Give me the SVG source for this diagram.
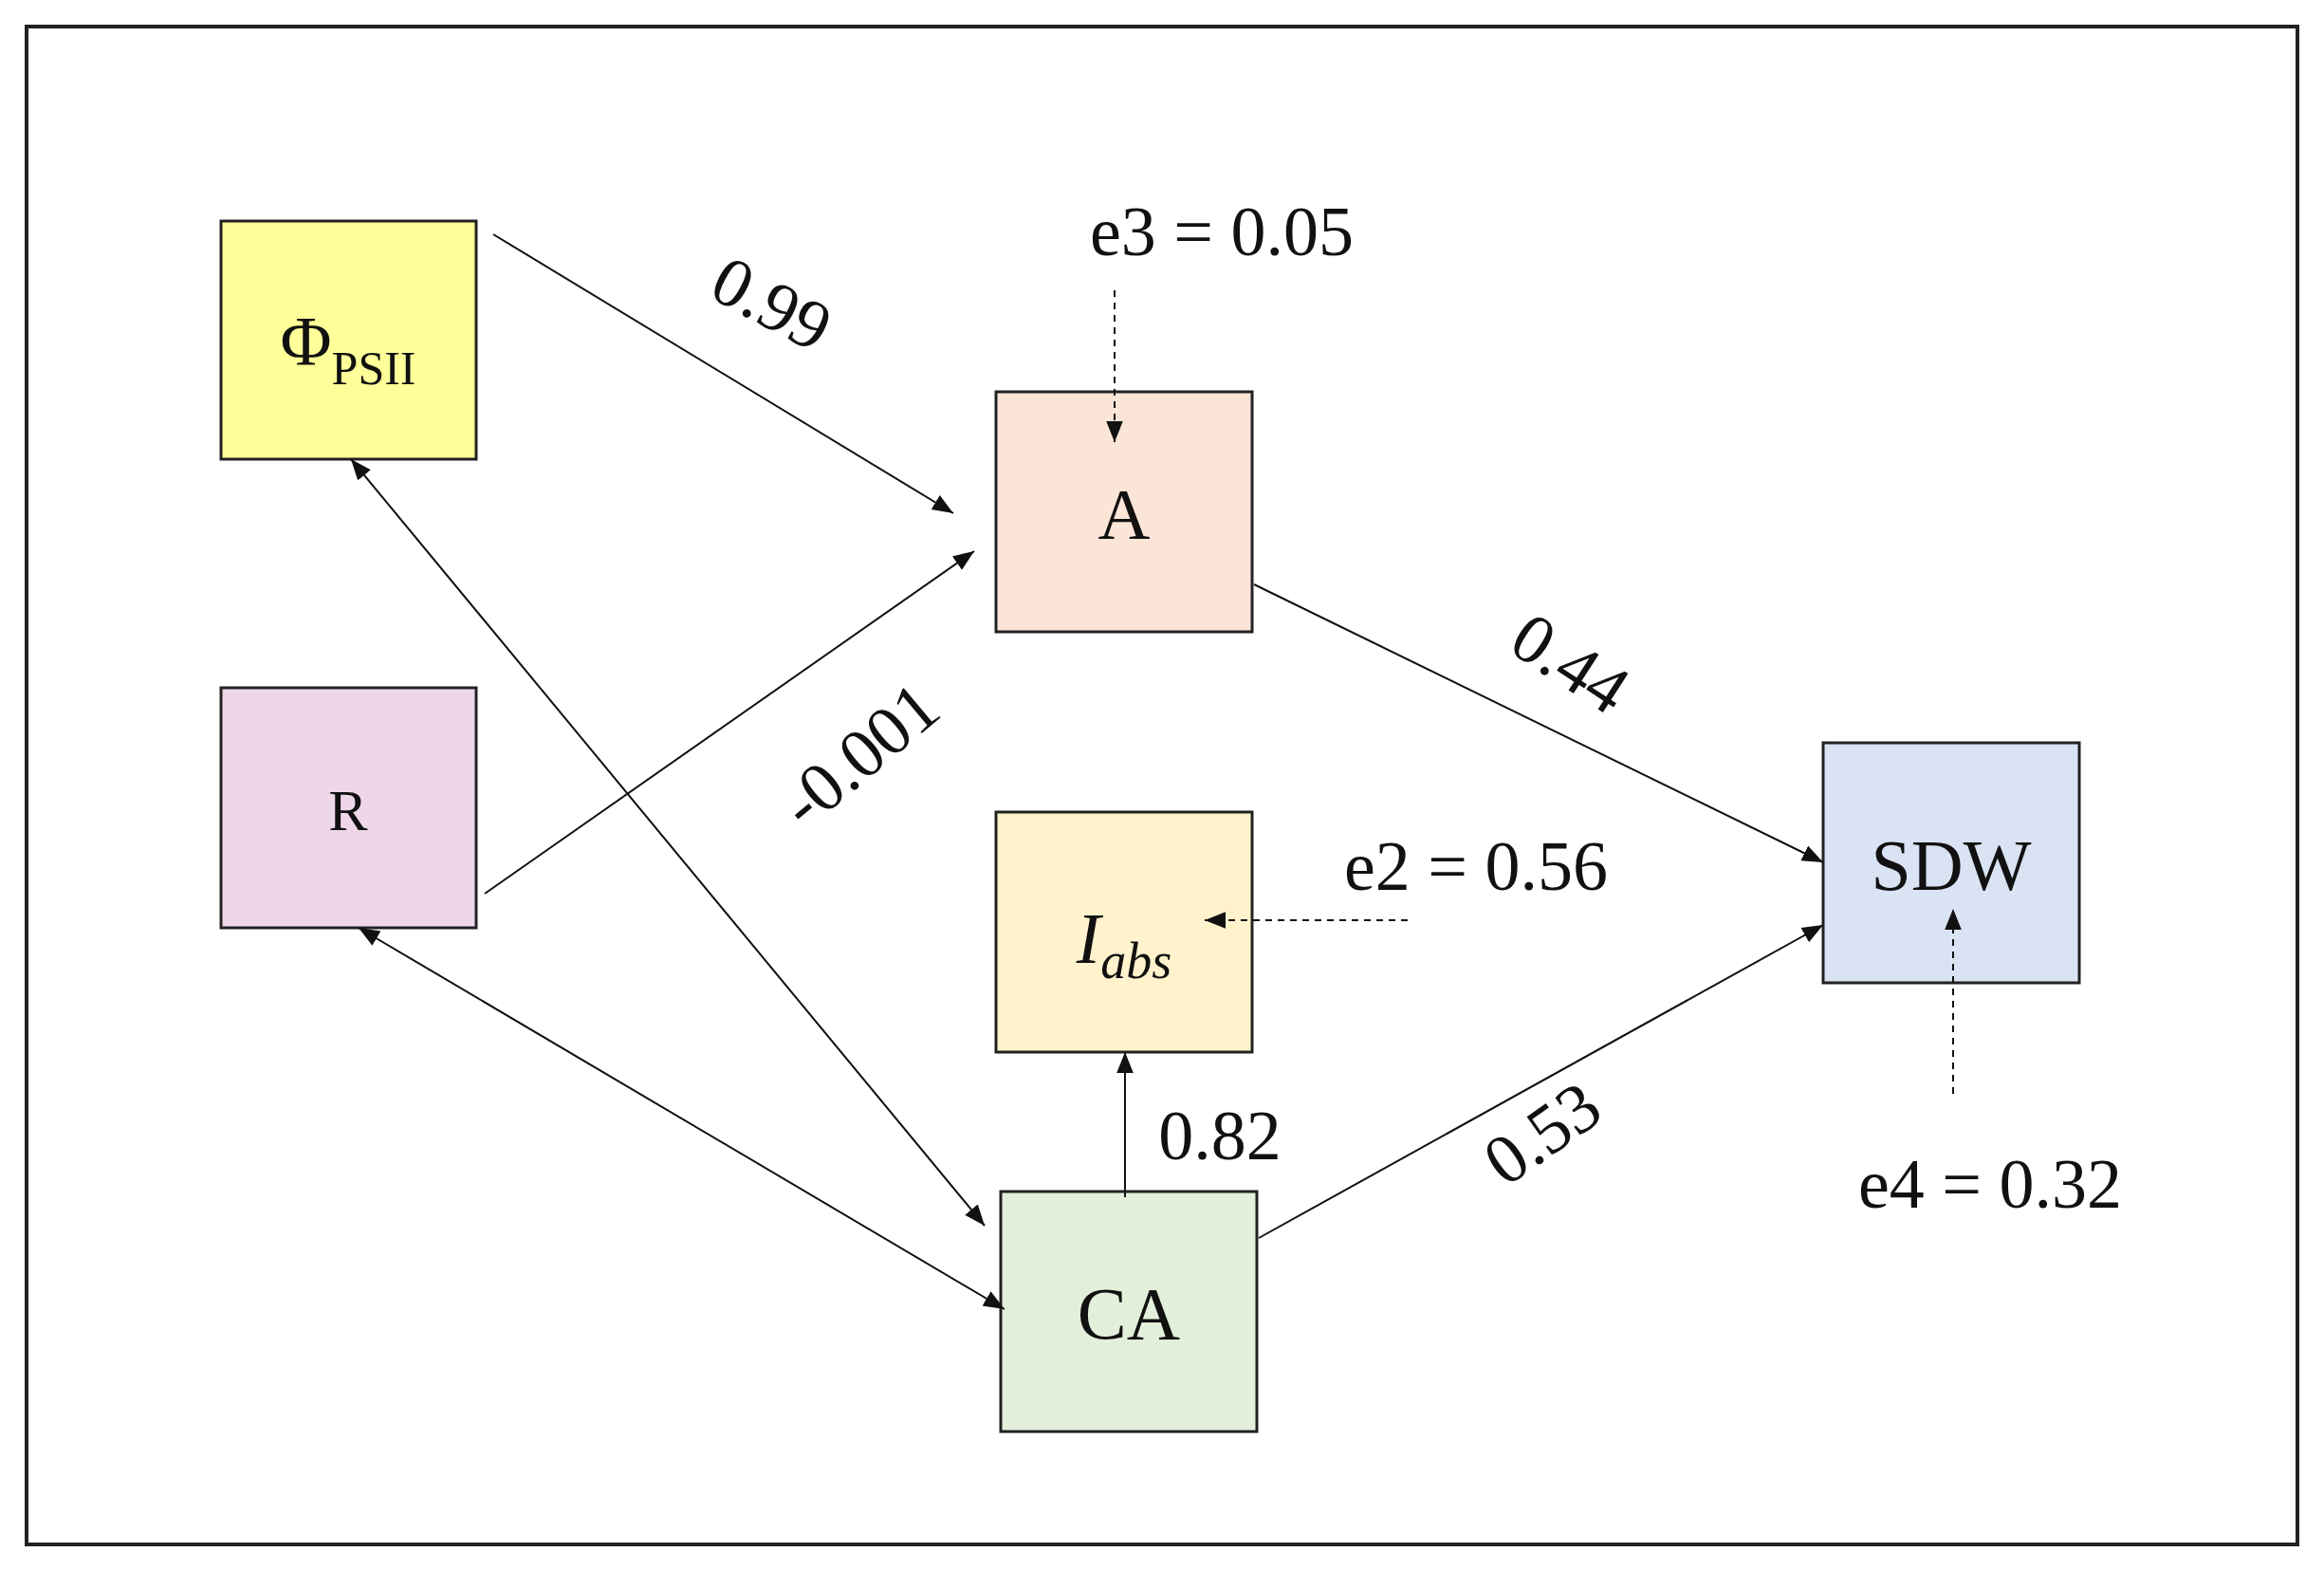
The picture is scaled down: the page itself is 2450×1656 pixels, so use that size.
<svg xmlns="http://www.w3.org/2000/svg" width="2450" height="1656" viewBox="0 0 2450 1656">
<style>
text{font-family:"Liberation Serif",serif;fill:#111;text-anchor:middle}
.n{stroke:#222;stroke-width:3}
.c{stroke:#111;stroke-width:2;fill:none}
.d{stroke:#111;stroke-width:2;fill:none;stroke-dasharray:7,6}
.l{font-size:74px}
</style>
<defs>
<marker id="ah2" viewBox="0 0 10 10" refX="10" refY="5" markerWidth="22" markerHeight="22" markerUnits="userSpaceOnUse" orient="auto-start-reverse"><path d="M0,1 L10,5 L0,9 z" fill="#111"/></marker>
</defs>
<rect width="2450" height="1656" fill="#fff"/>
<rect x="28" y="28" width="2394" height="1600" fill="none" stroke="#222" stroke-width="4"/>
<g id="phi"><rect class="n" x="233" y="233" width="269" height="251" fill="#ffff99"/><text x="367" y="385" font-size="74">Φ<tspan font-size="50" dy="20">PSII</tspan></text></g>
<g id="A"><rect class="n" x="1050" y="413" width="270" height="253" fill="#fbe5d6"/><text x="1185" y="568" font-size="76">A</text></g>
<g id="R"><rect class="n" x="233" y="725" width="269" height="253" fill="#efd7ea"/><text x="367" y="875" font-size="62">R</text></g>
<g id="Iabs"><rect class="n" x="1050" y="856" width="270" height="253" fill="#fff2cc"/><text x="1185" y="1015" font-size="76" font-style="italic">I<tspan font-size="54" dy="16">abs</tspan></text></g>
<g id="SDW"><rect class="n" x="1922" y="783" width="270" height="253" fill="#dae3f3"/><text x="2057" y="938" font-size="76">SDW</text></g>
<g id="CA"><rect class="n" x="1055" y="1256" width="270" height="253" fill="#e2efda"/><text x="1190" y="1411" font-size="78">CA</text></g>
<g id="connectors">
<line class="c" x1="520" y1="247" x2="1005" y2="541" marker-end="url(#ah2)"/>
<line class="c" x1="511" y1="942" x2="1027" y2="581" marker-end="url(#ah2)"/>
<line class="c" x1="1322" y1="616" x2="1922" y2="909" marker-end="url(#ah2)"/>
<line class="c" x1="1327" y1="1305" x2="1922" y2="975" marker-end="url(#ah2)"/>
<line class="c" x1="1186" y1="1262" x2="1186" y2="1109" marker-end="url(#ah2)"/>
<line class="c" x1="370" y1="484" x2="1038" y2="1292" marker-start="url(#ah2)" marker-end="url(#ah2)"/>
<line class="c" x1="378" y1="978" x2="1059" y2="1380" marker-start="url(#ah2)" marker-end="url(#ah2)"/>
<line class="d" x1="1175" y1="306" x2="1175" y2="466" marker-end="url(#ah2)"/>
<line class="d" x1="1484" y1="970" x2="1270" y2="970" marker-end="url(#ah2)"/>
<line class="d" x1="2059" y1="1153" x2="2059" y2="958" marker-end="url(#ah2)"/>
<text class="l" x="1288" y="269">e3 = 0.05</text>
<text class="l" x="1556" y="938">e2 = 0.56</text>
<text class="l" x="2098" y="1273">e4 = 0.32</text>
<text class="l" x="1286" y="1222">0.82</text>
<text class="l" transform="translate(802,342) rotate(28)">0.99</text>
<text class="l" transform="translate(922,815) rotate(-40)">-0.001</text>
<text class="l" transform="translate(1642,720) rotate(33)">0.44</text>
<text class="l" transform="translate(1640,1215) rotate(-35)">0.53</text>
</g>
</svg>
